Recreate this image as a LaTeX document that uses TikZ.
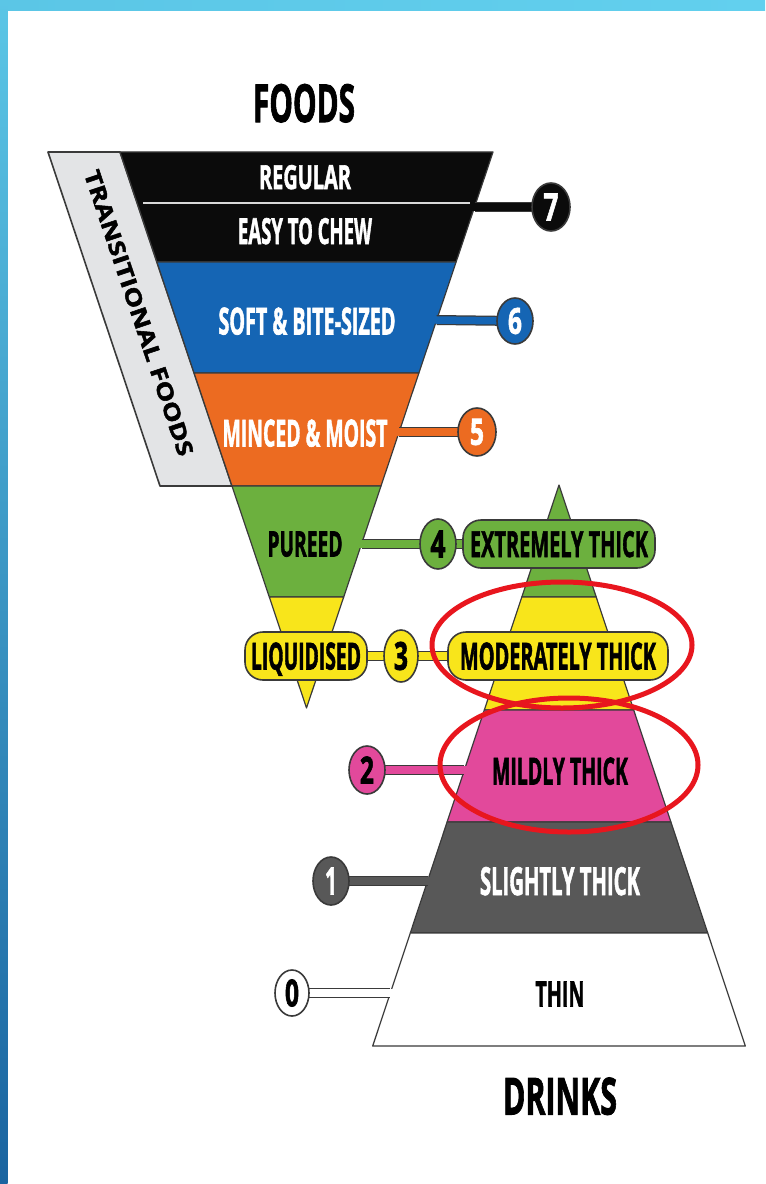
\documentclass[tikz,border=0pt]{standalone}
\usepackage{fontspec}
\setmainfont{Open Sans}[BoldFeatures={FakeBold=2}]
\usepackage{graphicx}
\usetikzlibrary{shapes.geometric}
\newdimen\pxu \pxu=0.75pt
\newcommand\fitlab[3]{\resizebox{#1\pxu}{#2\pxu}{\bfseries #3}}
\definecolor{fblack}{HTML}{0B0B0B}
\definecolor{fblue}{HTML}{1565B4}
\definecolor{forange}{HTML}{EC6B21}
\definecolor{fgreen}{HTML}{6CB03E}
\definecolor{fyellow}{HTML}{F8E51B}
\definecolor{fpink}{HTML}{E2499B}
\definecolor{fgray}{HTML}{585858}
\definecolor{tgray}{HTML}{E3E4E6}
\definecolor{edgec}{HTML}{3A3A3A}
\definecolor{ringred}{HTML}{E8161E}
\definecolor{frametop}{HTML}{5BC6E6}
\definecolor{frameright}{HTML}{62D0EE}
\definecolor{framebot}{HTML}{1A64A0}
\tikzset{
  band/.style={fill=#1, draw=edgec, line width=1.2*0.75pt, line join=round},
  lab/.style={inner sep=0pt, text depth=0pt},
  numc/.style 2 args={ellipse, inner sep=0pt, fill=#1, draw=edgec, line width=1.6*0.75pt, text=#2},
  pill/.style={rectangle, rounded corners=18*0.75pt, inner sep=0pt, fill=#1, draw=edgec, line width=1.6*0.75pt, text depth=0pt},
  connf/.style={line width=7.5*0.75pt, draw=#1, shorten <=-3*0.75pt, preaction={draw=edgec, line width=10*0.75pt, shorten <=0pt}},
  connd/.style={line width=7.5*0.75pt, draw=#1, shorten >=-3*0.75pt, preaction={draw=edgec, line width=10*0.75pt, shorten >=0pt}},
  connp/.style={line width=7.5*0.75pt, draw=#1, preaction={draw=edgec, line width=10*0.75pt}},
  ring/.style={draw=ringred, line width=5*0.75pt}
}
\begin{document}
\begin{tikzpicture}[x=0.75pt, y=-0.75pt]
\useasboundingbox (0,0) rectangle (765,1184);
\fill[white] (0,0) rectangle (765,1184);
% frame
\shade[left color=frametop, right color=frameright] (0,0) rectangle (765,11);
\shade[top color=frametop, bottom color=framebot] (0,0) rectangle (7.5,1184);

% transitional foods band
\draw[band=tgray, line width=1.6*0.75pt] (48,152) -- (120,152) -- (232,486) -- (160,486) -- cycle;

% foods funnel
\draw[band=fblack] (120,152) -- (493,152) -- (456.1,262) -- (156.9,262) -- cycle;
\draw[band=fblue] (156.9,262) -- (456.1,262) -- (418.9,373) -- (194.1,373) -- cycle;
\draw[band=forange] (194.1,373) -- (418.9,373) -- (381,486) -- (232,486) -- cycle;
\draw[band=fgreen] (232,486) -- (381,486) -- (343.7,597) -- (269.3,597) -- cycle;
\draw[band=fyellow] (269.3,597) -- (343.7,597) -- (306.5,708) -- cycle;
\draw[draw=white!85!black, line width=2.2*0.75pt] (143,203) -- (470,203);

% drinks pyramid
\draw[band=fgreen] (559,485) -- (596.2,597) -- (521.8,597) -- cycle;
\draw[band=fyellow] (521.8,597) -- (596.2,597) -- (633.7,710) -- (484.3,710) -- cycle;
\draw[band=fpink] (484.3,710) -- (633.7,710) -- (670.9,822) -- (447.1,822) -- cycle;
\draw[band=fgray] (447.1,822) -- (670.9,822) -- (707.7,933) -- (410.3,933) -- cycle;
\draw[band=white] (410.3,933) -- (707.7,933) -- (745.3,1046) -- (372.7,1046) -- cycle;

% edge coordinates
\coordinate (e7) at (474.5,207);
\coordinate (e6) at (436.6,320);
\coordinate (e5) at (399,432);
\coordinate (e4) at (361.5,544);
\coordinate (e2) at (464.4,770);
\coordinate (e1) at (427.5,881);
\coordinate (e0) at (390.3,993);

% circle and pill anchors
\coordinate (c7) at (551,207);
\coordinate (c6) at (515,321);
\coordinate (c5) at (477,432);
\coordinate (c4) at (438,544);
\coordinate (c3) at (401,656);
\coordinate (c2) at (367,770);
\coordinate (c1) at (331,881);
\coordinate (c0) at (292,993);
\coordinate (liq) at (306,656);
\coordinate (ext) at (559,544);
\coordinate (mod) at (558,656);

% connectors
\draw[connf=fblack] (e7) -- (c7);
\draw[connf=fblue] (e6) -- (c6);
\draw[connf=forange] (e5) -- (c5);
\draw[connf=fgreen] (e4) -- (c4);
\draw[connp=fgreen] (c4) -- (ext);
\draw[connp=fyellow] (liq) -- (c3);
\draw[connp=fyellow] (c3) -- (mod);
\draw[connd=fpink] (c2) -- (e2);
\draw[connd=fgray] (c1) -- (e1);
\draw[connd=white] (c0) -- (e0);

% circles and pills
\node[numc={fblack}{white}, minimum width=38*0.75pt, minimum height=48*0.75pt] (n7) at (c7) {\fitlab{15}{27}{7}};
\node[numc={fblue}{white}, minimum width=36*0.75pt, minimum height=46*0.75pt] (n6) at (c6) {\fitlab{14}{26}{6}};
\node[numc={forange}{white}, minimum width=38*0.75pt, minimum height=48*0.75pt] (n5) at (c5) {\fitlab{14}{26}{5}};
\node[numc={fgreen}{black}, minimum width=36*0.75pt, minimum height=50*0.75pt] (n4) at (c4) {\fitlab{15}{27}{4}};
\node[numc={fyellow}{black}, minimum width=34*0.75pt, minimum height=52*0.75pt] (n3) at (c3) {\fitlab{14}{28}{3}};
\node[numc={fpink}{black}, minimum width=36*0.75pt, minimum height=48*0.75pt] (n2) at (c2) {\fitlab{14}{27}{2}};
\node[numc={fgray}{white}, minimum width=36*0.75pt, minimum height=48*0.75pt] (n1) at (c1) {\fitlab{12}{27}{1}};
\node[numc={white}{black}, minimum width=34*0.75pt, minimum height=46*0.75pt] (n0) at (c0) {\fitlab{14}{27}{0}};
\node[pill=fyellow, minimum width=122*0.75pt, minimum height=48*0.75pt] (pliq) at (liq) {\fitlab{110}{27}{LIQUIDISED}};
\node[pill=fgreen, minimum width=192*0.75pt, minimum height=48*0.75pt] (pext) at (ext) {\fitlab{178}{26}{EXTREMELY THICK}};
\node[pill=fyellow, minimum width=220*0.75pt, minimum height=48*0.75pt] (pmod) at (mod) {\fitlab{196}{27}{MODERATELY THICK}};

% labels
\node[lab] (foods) at (304,103) {\fitlab{102}{38}{FOODS}};
\node[lab] (drinks) at (560,1096) {\fitlab{114}{37}{DRINKS}};
\node[lab, rotate=-71.46] (trans) at (139,313) {\fitlab{300}{16}{TRANSITIONAL FOODS}};
\node[lab, text=white] (regular) at (305,177) {\fitlab{92}{24}{REGULAR}};
\node[lab, text=white] (easy) at (305,231) {\fitlab{134}{26}{EASY TO CHEW}};
\node[lab, text=white] (soft) at (307,321) {\fitlab{177}{27}{SOFT \& BITE-SIZED}};
\node[lab, text=white] (minced) at (305,433) {\fitlab{165}{27}{MINCED \& MOIST}};
\node[lab] (pureed) at (305,544) {\fitlab{75}{25}{PUREED}};
\node[lab] (mildly) at (560,771) {\fitlab{136}{27}{MILDLY THICK}};
\node[lab, text=white] (slightly) at (560,881) {\fitlab{160}{28}{SLIGHTLY THICK}};
\node[lab] (thin) at (560,994) {\fitlab{49}{25}{THIN}};

% red highlight rings
\draw[ring] (562,645) ellipse [x radius=130, y radius=63];
\draw[ring] (569,765) ellipse [x radius=129, y radius=67];
\end{tikzpicture}
\end{document}
